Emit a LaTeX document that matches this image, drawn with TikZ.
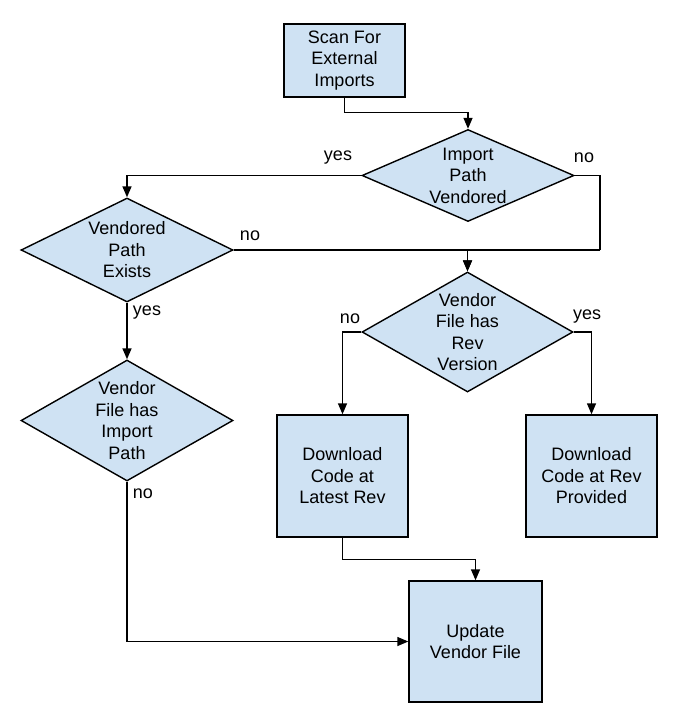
\documentclass[tikz,border=0pt]{standalone}
\usepackage{fontspec}
\setmainfont{Liberation Sans}
\usetikzlibrary{shapes.geometric,arrows.meta}
\definecolor{boxblue}{HTML}{CFE2F3}
\begin{document}
\begin{tikzpicture}[x=1pt,y=-1pt,
  txt/.style={font=\fontsize{18}{21.5}\selectfont, align=center, inner sep=0pt},
  box/.style={draw=black, fill=boxblue, line width=1.4pt, inner sep=0pt, txt},
  dia/.style={draw=black, fill=boxblue, line width=1.4pt, inner sep=0pt, diamond},
  conn/.style={draw=black, line width=1.4pt, -{Triangle[length=11pt,width=9pt]}},
  plain/.style={draw=black, line width=1.4pt},
  lbl/.style={font=\fontsize{18}{21.5}\selectfont, inner sep=0pt}
]
\useasboundingbox (0,0) rectangle (677,720);

\node[box, minimum width=121pt, minimum height=73pt] (s) at (344.5,60.5) {Scan For\\External\\Imports};
\node[dia, minimum width=212pt, minimum height=92pt, label={[txt]center:Import\\Path\\Vendored}] (d1) at (468,175.5) {};
\node[dia, minimum width=212pt, minimum height=104pt, label={[txt]center:Vendored\\Path\\Exists}] (d2) at (127,250) {};
\node[dia, minimum width=211pt, minimum height=120pt, label={[txt]center:Vendor\\File has\\Rev\\Version}] (d3) at (467.5,332) {};
\node[dia, minimum width=212pt, minimum height=121pt, label={[txt]center:Vendor\\File has\\Import\\Path}] (d4) at (127,420.5) {};
\node[box, minimum width=131pt, minimum height=122pt] (lat) at (342.5,476) {Download\\Code at\\Latest Rev};
\node[box, minimum width=131pt, minimum height=122pt] (prov) at (591.5,476) {Download\\Code at Rev\\Provided};
\node[box, minimum width=133pt, minimum height=121pt] (upd) at (475.5,641.5) {Update\\Vendor File};

\coordinate (j) at (600,250);

\draw[conn] (s.south) -- ++(0,15) -| (d1.north);
\draw[conn] (d1.west) -| (d2.north);
\draw[plain] (d1.east) -| (j);
\draw[conn] (j) -| (d3.north);
\draw[conn] (d2.east) -| (d3.north);
\draw[conn] (d2.south) -- (d4.north);
\draw[conn] (d3.west) -| (lat.north);
\draw[conn] (d3.east) -| (prov.north);
\draw[conn] (d4.south) |- (upd.west);
\draw[conn] (lat.south) -- ++(0,22) -| (upd.north);

\node[lbl] (l1) at (338,158) {yes};
\node[lbl] (l2) at (584,158) {no};
\node[lbl] (l3) at (250,236) {no};
\node[lbl] (l4) at (147,313) {yes};
\node[lbl] (l5) at (350,319) {no};
\node[lbl] (l6) at (587,317) {yes};
\node[lbl] (l7) at (143,494) {no};
\end{tikzpicture}
\end{document}
